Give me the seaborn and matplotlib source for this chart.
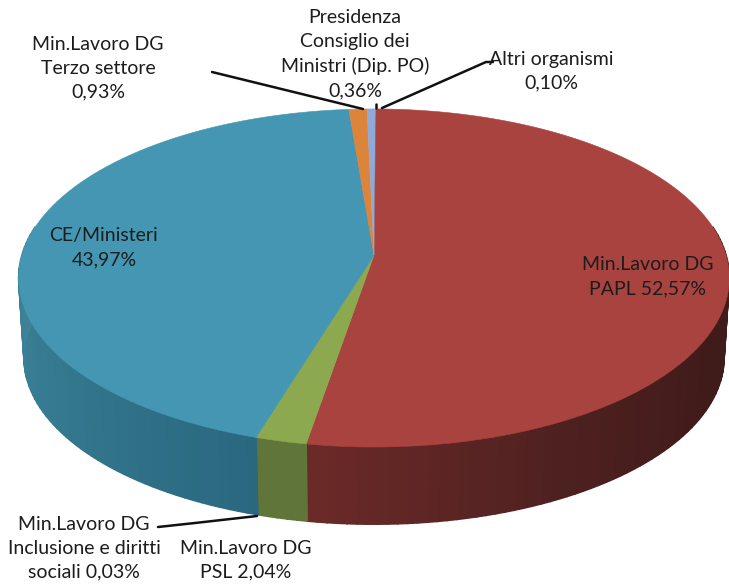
import numpy as np
import pandas as pd
import matplotlib
matplotlib.use('Agg')
import matplotlib.pyplot as plt
import seaborn as sns

labels = ['Altri organismi', 'Min.Lavoro DG PAPL', 'Min.Lavoro DG PSL',
          'Min.Lavoro DG Inclusione', 'CE/Ministeri',
          'Min.Lavoro DG Terzo settore', 'Presidenza Consiglio']
values = [0.10, 52.57, 2.04, 0.03, 43.97, 0.93, 0.36]
top_colors = ['#8fa9d8', '#a9433f', '#8da94f', '#4596b3', '#4596b3', '#dc843a', '#8fa9d8']
# side wall shades, walking clockwise through each slice
side_shades = [
    ['#5f7599', '#5f7599'],
    ['#3f1b1a', '#3f1b1a', '#4e2120', '#6a2a28'],
    ['#5f7539', '#5f7539'],
    ['#2a6880', '#2a6880'],
    ['#2a6880', '#357a90', '#3f8499'],
    ['#3f8499', '#3f8499'],
    ['#5f7599', '#5f7599'],
]

# text, x centre, y centre in pixels
texts = [
    ('Presidenza\nConsiglio dei\nMinistri (Dip. PO)\n0,36%', 355, 54),
    ('Min.Lavoro DG\nTerzo settore\n0,93%', 98, 68),
    ('Altri organismi\n0,10%', 551, 71),
    ('CE/Ministeri\n43,97%', 104, 248),
    ('Min.Lavoro DG\nPAPL 52,57%', 648, 277),
    ('Min.Lavoro DG\nInclusione e diritti\nsociali 0,03%', 84, 548),
    ('Min.Lavoro DG\nPSL 2,04%', 246, 560),
]
leaders = [
    ([212, 363], [72, 109]),
    ([493, 486, 382], [62, 62, 108]),
    ([376, 376], [104, 108]),
    ([158, 195, 257], [527, 523, 516]),
]

df = pd.DataFrame({'label': labels, 'value': values})
df['end'] = df['value'].cumsum() / df['value'].sum() * 2 * np.pi
df['start'] = df['end'].shift(fill_value=0)

# perspective pie: phi runs clockwise from the top
CX, CY, RX, RY, K = 374, 255, 352, 165.9, 0.136
DEPTH, SHRINK = 80, 0.985
OFFSET = 0.0


def rim(phi, lower=False):
    u, v = np.sin(phi + OFFSET), np.cos(phi + OFFSET)
    w = 1 + K * v
    x, y = RX * u / w, -RY * v / w
    if lower:
        return CX + x * SHRINK, CY + y * SHRINK + DEPTH
    return CX + x, CY + y


sns.set_theme(style='white')
plt.rcParams['font.family'] = ['Lato', 'DejaVu Sans']

fig = plt.figure(figsize=(7.29, 5.86), dpi=100)
ax = fig.add_axes([0, 0, 1, 1])
ax.set_xlim(0, 729)
ax.set_ylim(586, 0)
ax.axis('off')

# side wall first, the top covers what is behind it
for i, row in df.iterrows():
    lo, hi = max(row['start'], np.radians(80)), min(row['end'], np.radians(280))
    if hi <= lo:
        continue
    n = max(2, int((hi - lo) * 40))
    edges = np.linspace(lo, hi, n + 1)
    shades = sns.blend_palette(side_shades[i], n)
    for j in range(n):
        a = np.linspace(edges[j], edges[j + 1], 4)
        x1, y1 = rim(a)
        x2, y2 = rim(a[::-1], lower=True)
        ax.fill(np.r_[x1, x2], np.r_[y1, y2], facecolor=shades[j], edgecolor=shades[j], lw=1.2)

for i, row in df.iterrows():
    a = np.linspace(row['start'], row['end'], max(3, int(row['value'] * 8)))
    x, y = rim(a)
    ax.fill(np.r_[CX, x], np.r_[CY, y], color=top_colors[i], lw=0.4)

for xs, ys in leaders:
    ax.plot(xs, ys, color='#111111', lw=1.8, solid_capstyle='round')

for s, x, y in texts:
    ax.text(x, y, s, ha='center', va='center', fontsize=14, color='#1c1c1c', linespacing=1.5)

fig.savefig('out.png', dpi=100)
